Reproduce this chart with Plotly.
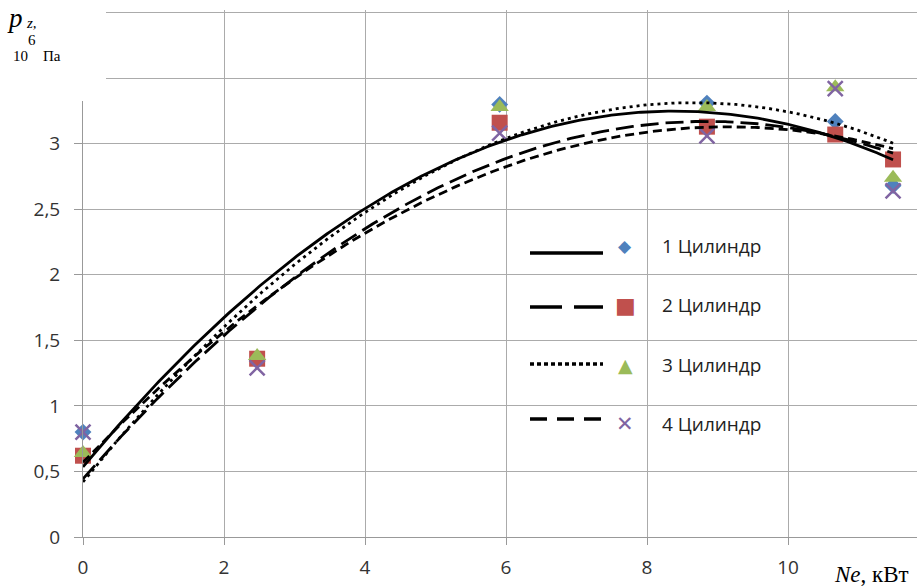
import numpy as np
import plotly.graph_objects as go

# ---- data ----
ne_kw = [0.0, 2.47, 5.91, 8.85, 10.67, 11.49]
cyl1 = [0.80, 1.35, 3.30, 3.31, 3.17, 2.68]
cyl2 = [0.62, 1.36, 3.16, 3.13, 3.07, 2.88]
cyl3 = [0.64, 1.38, 3.28, 3.28, 3.43, 2.74]
cyl4 = [0.80, 1.29, 3.08, 3.06, 3.42, 2.64]
names = ["1 Цилиндр", "2 Цилиндр", "3 Цилиндр", "4 Цилиндр"]
x_ticks = [0, 2, 4, 6, 8, 10, 12]
y_ticks = [0, 0.5, 1, 1.5, 2, 2.5, 3, 3.5, 4]

series = [cyl1, cyl2, cyl3, cyl4]
colors = ["#4F81BD", "#C0504D", "#9BBB59", "#8064A2"]
symbols = ["diamond", "square", "triangle-up", "x-thin"]
sizes = [13, 16, 16, 15]
dashes = ["solid", "18px,7px", "3px,4px", "9px,5px"]
legend_dashes = ["solid", "32px,12px", "4px,3px", "17px,10px"]
legend_glyphs = ["◆", "■", "▲", "✕"]
legend_glyph_sizes = [17, 22, 19, 21]

W, H = 917, 586
L, R, T, B = 83, 0, 10, 49
PW, PH = W - L - R, H - T - B
XMAX = PW / 70.5
YMAX = 4.02


def px(xp):
    return (xp - L) / PW


def py(yp):
    return (H - B - yp) / PH


fig = go.Figure()

for s, c, sym, sz, nm in zip(series, colors, symbols, sizes, names):
    if sym == "x-thin":
        marker = dict(symbol=sym, size=sz, color=c, line=dict(width=2.5, color=c))
    else:
        marker = dict(symbol=sym, size=sz, color=c, line=dict(width=0))
    fig.add_trace(go.Scatter(x=ne_kw, y=s, mode="markers", marker=marker,
                             name=nm, showlegend=False, cliponaxis=False))

xs = np.linspace(min(ne_kw), max(ne_kw), 300)
for s, d, nm in zip(series, dashes, names):
    coef = np.polyfit(ne_kw, s, 2)
    fig.add_trace(go.Scatter(x=xs, y=np.polyval(coef, xs), mode="lines",
                             line=dict(color="black", width=2.8, dash=d),
                             name=nm + " trend", showlegend=False))

shapes = []
annotations = []

# custom legend (line sample, marker glyph, label)
row_y = [246, 305, 365, 424]
line_y = [253, 307, 364, 419]
for i in range(4):
    shapes.append(dict(type="line", xref="paper", yref="paper",
                       x0=px(530), x1=px(603), y0=py(line_y[i]), y1=py(line_y[i]),
                       line=dict(color="black", width=3.5, dash=legend_dashes[i])))
    annotations.append(dict(xref="paper", yref="paper", x=px(625), y=py(row_y[i]),
                            text=legend_glyphs[i], showarrow=False,
                            xanchor="center", yanchor="middle",
                            font=dict(family="DejaVu Sans", size=legend_glyph_sizes[i],
                                      color=colors[i])))
    annotations.append(dict(xref="paper", yref="paper", x=px(660), y=py(row_y[i]),
                            text=names[i], showarrow=False,
                            xanchor="left", yanchor="middle",
                            font=dict(family="Open Sans", size=19, color="#222")))

# white box covering the upper-left corner (as in the reference)
shapes.append(dict(type="rect", xref="paper", yref="paper", layer="above",
                   x0=px(-5), x1=px(106), y0=py(101), y1=py(-5),
                   fillcolor="white", line=dict(width=0)))

# y-axis title
annotations.append(dict(xref="paper", yref="paper", x=px(5), y=py(18),
                        text="<i>p</i>", showarrow=False, xanchor="left", yanchor="middle",
                        font=dict(family="Liberation Serif", size=27, color="black")))
annotations.append(dict(xref="paper", yref="paper", x=px(25), y=py(23),
                        text="<i>z,</i>", showarrow=False, xanchor="left", yanchor="middle",
                        borderpad=0,
                        font=dict(family="Liberation Serif", size=15, color="black")))
annotations.append(dict(xref="paper", yref="paper", x=px(27), y=py(40),
                        text="6", showarrow=False, xanchor="left", yanchor="middle",
                        borderpad=0,
                        font=dict(family="Liberation Serif", size=15, color="black")))
annotations.append(dict(xref="paper", yref="paper", x=px(12), y=py(56),
                        text="10&nbsp;&nbsp;&nbsp;&nbsp;Па", showarrow=False, xanchor="left",
                        yanchor="middle", borderpad=0,
                        font=dict(family="Liberation Serif", size=15, color="black")))
# x-axis title
annotations.append(dict(xref="paper", yref="paper", x=px(911), y=py(574),
                        text="<i>Ne</i>, кВт", showarrow=False, xanchor="right",
                        yanchor="middle",
                        font=dict(family="Liberation Serif", size=23, color="black")))

grid = "#ababab"
fig.update_layout(
    width=W, height=H,
    margin=dict(l=L, r=R, t=T, b=B, pad=0),
    plot_bgcolor="white", paper_bgcolor="white",
    separators=", ",
    showlegend=False,
    shapes=shapes, annotations=annotations,
    font=dict(family="Open Sans", size=19, color="#333"),
    xaxis=dict(range=[0, XMAX], tickvals=x_ticks,
               showgrid=True, gridcolor=grid, gridwidth=1,
               showline=True, linecolor="#999", linewidth=1,
               ticks="outside", ticklen=7, tickcolor="#999",
               ticklabelstandoff=6, zeroline=False,
               tickfont=dict(family="Open Sans", size=19, color="#333")),
    yaxis=dict(range=[0, YMAX], tickvals=y_ticks,
               showgrid=True, gridcolor=grid, gridwidth=1,
               showline=True, linecolor="#999", linewidth=1,
               ticks="outside", ticklen=8, tickcolor="#999",
               ticklabelstandoff=10, zeroline=False,
               tickfont=dict(family="Open Sans", size=19, color="#333")),
)

fig.write_html("out.html")
